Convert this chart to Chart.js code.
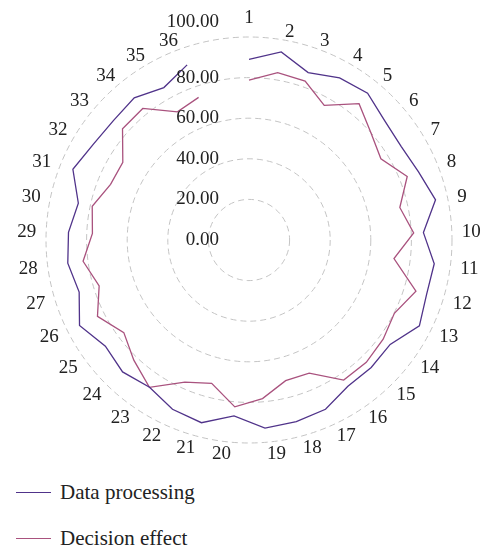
<!DOCTYPE html>
<html>
<head>
<meta charset="utf-8">
<script src="https://cdn.jsdelivr.net/npm/chart.js@4.4.1/dist/chart.umd.min.js"></script>
<style>
  body { margin: 0; background: #fff; }
  #wrap { position: relative; width: 484px; height: 549px; overflow: hidden; }
  #chart { position: absolute; left: 0; top: 0; }
  .legend-row { position: absolute; left: 16px; font: 21px "Liberation Serif", serif; color: #222; display: flex; align-items: center; }
  .legend-row span.line { display: inline-block; width: 35px; height: 0; border-top: 1.4px solid; margin-right: 9px; }
</style>
</head>
<body>
<div id="wrap">
  <canvas id="chart" width="484" height="480"></canvas>
  <div id="legend"></div>
</div>
<script>
// categories 1..36, plus one empty slot between 36 and 1
const labels = ['1','2','3','4','5','6','7','8','9','10','11','12','13','14','15','16','17','18',
                '19','20','21','22','23','24','25','26','27','28','29','30','31','32','33','34','35','36',''];

const dataProcessing = [89, 94, 87.5, 91.5, 93, 89, 88, 90, 94, 86, 92, 91.5, 94, 86.5, 87, 87, 91.5, 92.5,
                        93, 87, 93, 91.5, 87.5, 90, 88, 93.5, 87.5, 90, 89, 86, 93.5, 90, 89, 90, 86, 91.5, null];

const decisionEffect = [78.7, 83.6, 83, 76, 86.3, 80, 76.3, 84, 76, 81.2, 72, 86, 80.2, 82.2, 83.5, 83.3, 72, 71.6,
                        78.4, 82.5, 73, 76.8, 87.6, 82, 76.7, 83.6, 77.2, 82.4, 77.2, 79, 73.5, 73, 83, 83.3, 72.3, 74.5, null];

const tickValues = [0, 20, 40, 60, 80, 100];

const seriesNames = ['Data processing', 'Decision effect'];
const seriesColors = ['#50338a', '#a9527e'];

const serif = '"Liberation Serif", "DejaVu Serif", serif';

// tick labels left of the vertical axis + category labels around the ring
const labelPlugin = {
    id: 'radarLabels',
    afterDraw(chart) {
        const s = chart.scales.r;
        const ctx = chart.ctx;
        ctx.save();
        ctx.font = '19px ' + serif;
        ctx.fillStyle = '#222';
        ctx.textBaseline = 'middle';

        ctx.textAlign = 'right';
        s.ticks.forEach((t, i) => {
            let y = s.yCenter - s.getDistanceFromCenterForValue(t.value);
            if (i === s.ticks.length - 1) y -= 15; // top label sits above the outer ring
            ctx.fillText(t.value.toFixed(2), s.xCenter - 30, y);
        });

        chart.data.labels.forEach((lbl, i) => {
            if (!lbl) return;
            const p = s.getPointPosition(i, s.drawingArea + 10);
            const side = Math.cos(p.angle);
            ctx.textAlign = side > 0.01 ? 'left' : (side < -0.01 ? 'right' : 'center');
            let y = p.y + 1.5;
            if (i === 0) y -= 10; // first label lifted, as in the original
            ctx.fillText(lbl, p.x, y);
        });
        ctx.restore();
    }
};

const chart = new Chart(document.getElementById('chart'), {
    type: 'radar',
    data: {
        labels: labels,
        datasets: seriesNames.map((name, i) => ({
            label: name,
            data: i === 0 ? dataProcessing : decisionEffect,
            borderColor: seriesColors[i],
            borderWidth: 1.3,
            pointRadius: 0,
            pointHoverRadius: 0,
            fill: false,
            spanGaps: false,
            tension: 0
        }))
    },
    options: {
        responsive: false,
        animation: false,
        devicePixelRatio: 1,
        layout: { padding: { left: 46, right: 32, top: 37, bottom: 37 } },
        plugins: {
            legend: { display: false },
            tooltip: { enabled: false }
        },
        scales: {
            r: {
                min: 0,
                max: 100,
                ticks: { stepSize: 20, display: false },
                angleLines: { display: false },
                grid: { circular: true, color: '#c4c4c4', lineWidth: 1 },
                border: { dash: [6, 4] },
                pointLabels: { display: false }
            }
        }
    },
    plugins: [labelPlugin]
});

// legend built from the datasets
const legend = document.getElementById('legend');
const legendTops = [480, 526];
chart.data.datasets.forEach((ds, i) => {
    const row = document.createElement('div');
    row.className = 'legend-row';
    row.style.top = legendTops[i] + 'px';
    row.innerHTML = '<span class="line" style="border-color:' + ds.borderColor + '"></span>' + ds.label;
    legend.appendChild(row);
});
</script>
</body>
</html>
